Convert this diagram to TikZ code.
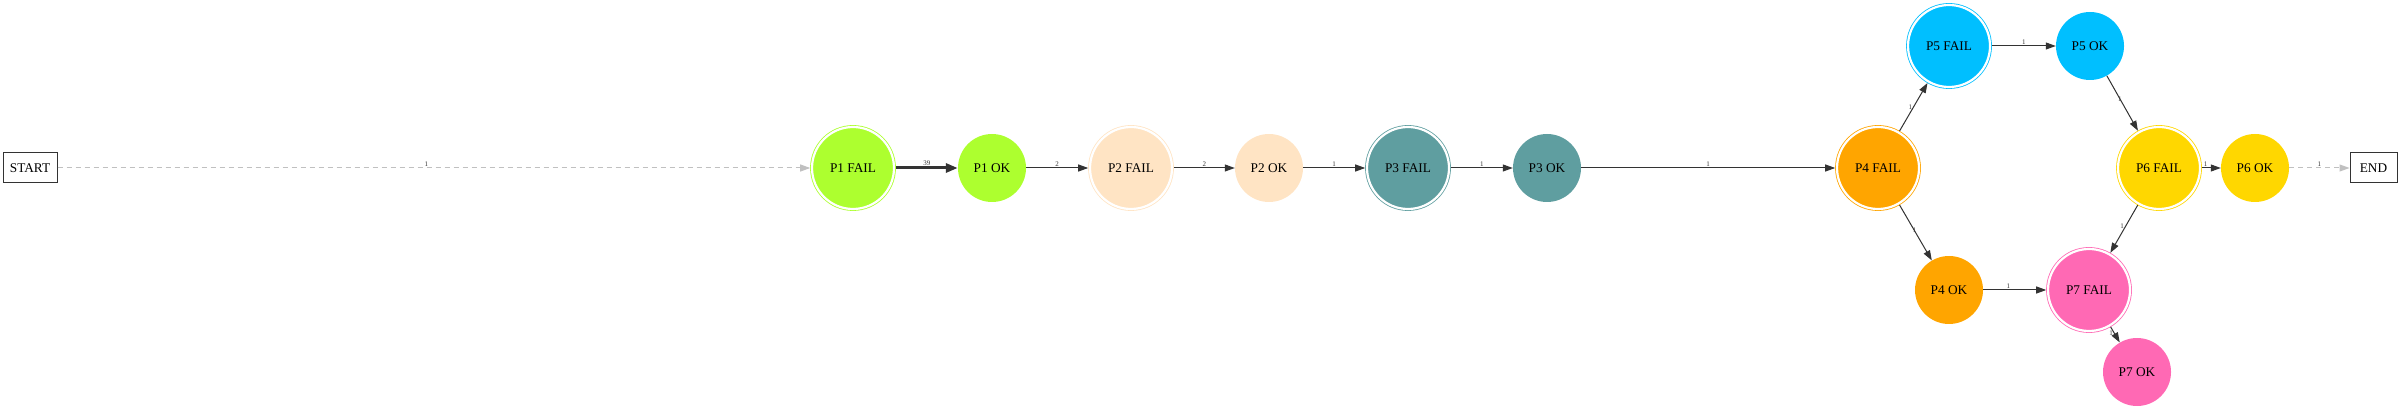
\documentclass[tikz,border=0pt]{standalone}
\usepackage{fontspec}
\setmainfont{Liberation Serif}
\usetikzlibrary{arrows.meta}
\definecolor{edgec}{HTML}{333333}
\definecolor{dashc}{HTML}{C0C0C0}
\definecolor{cP1}{HTML}{ADFF2F}
\definecolor{cP2}{HTML}{FFE4C4}
\definecolor{cP3}{HTML}{5F9EA0}
\definecolor{cP4}{HTML}{FFA500}
\definecolor{cP5}{HTML}{00BFFF}
\definecolor{cP6}{HTML}{FFD700}
\definecolor{cP7}{HTML}{FF69B4}
\tikzset{
  nfont/.style={font=\fontsize{13.3}{15}\selectfont},
  okc/.style={circle, fill=#1, minimum size=68pt, inner sep=0pt, nfont},
  failc/.style={circle, fill=#1, draw=#1, line width=0.8pt, double=white, double distance=2.2pt, minimum size=82pt, inner sep=0pt, outer sep=1.8pt, nfont},
  termbox/.style={draw=edgec, line width=1pt, minimum height=30pt, inner sep=0pt, nfont},
  edge/.style={draw=edgec, line width=1pt, -{Triangle[length=10pt,width=7pt]}},
  thickedge/.style={draw=edgec, line width=3pt, -{Triangle[length=12pt,width=9pt]}},
  dashedge/.style={draw=dashc, line width=1pt, dash pattern=on 5pt off 4pt, -{Triangle[length=10pt,width=7pt]}},
  lbl/.style={font=\fontsize{7}{8}\selectfont, text=edgec, inner sep=1pt},
}
\begin{document}
\begin{tikzpicture}[x=1pt, y=-1pt]
\useasboundingbox (0,0) rectangle (2400,411);
\node[termbox, minimum width=54pt] (start) at (30,168) {START};
\node[termbox, minimum width=47pt] (end) at (2373.5,168) {END};
\node[failc=cP1] (p1f) at (853,168) {P1 FAIL};
\node[okc=cP1] (p1o) at (992,168) {P1 OK};
\node[failc=cP2] (p2f) at (1131,168) {P2 FAIL};
\node[okc=cP2] (p2o) at (1269,168) {P2 OK};
\node[failc=cP3] (p3f) at (1408,168) {P3 FAIL};
\node[okc=cP3] (p3o) at (1547,168) {P3 OK};
\node[failc=cP4] (p4f) at (1878,168) {P4 FAIL};
\node[okc=cP4] (p4o) at (1949,290) {P4 OK};
\node[failc=cP5] (p5f) at (1949,46) {P5 FAIL};
\node[okc=cP5] (p5o) at (2090,46) {P5 OK};
\node[failc=cP6] (p6f) at (2159,168) {P6 FAIL};
\node[okc=cP6] (p6o) at (2255,168) {P6 OK};
\node[failc=cP7] (p7f) at (2089,290) {P7 FAIL};
\node[okc=cP7] (p7o) at (2137,372) {P7 OK};

\draw[dashedge] (start) -- node[lbl, above, pos=0.49] {1} (p1f);
\draw[thickedge] (p1f) -- node[lbl, above] {39} (p1o);
\draw[edge] (p1o) -- node[lbl, above] {2} (p2f);
\draw[edge] (p2f) -- node[lbl, above] {2} (p2o);
\draw[edge] (p2o) -- node[lbl, above] {1} (p3f);
\draw[edge] (p3f) -- node[lbl, above] {1} (p3o);
\draw[edge] (p3o) -- node[lbl, above] {1} (p4f);
\draw[edge] (p4f) -- node[lbl, left, pos=0.5] {1} (p5f);
\draw[edge] (p5f) -- node[lbl, above] {1} (p5o);
\draw[edge] (p5o) -- node[lbl, pos=0.42] {1} (p6f);
\draw[edge] (p6f) -- node[lbl, above, pos=0.2] {1} (p6o);
\draw[edge] (p6f) -- node[lbl, left, pos=0.45] {1} (p7f);
\draw[edge] (p4f) -- node[lbl, pos=0.46] {1} (p4o);
\draw[edge] (p4o) -- node[lbl, above, pos=0.4] {1} (p7f);
\draw[edge] (p7f) -- node[lbl, left, pos=0.4] {1} (p7o);
\draw[dashedge] (p6o) -- node[lbl, above] {1} (end);
\end{tikzpicture}
\end{document}
